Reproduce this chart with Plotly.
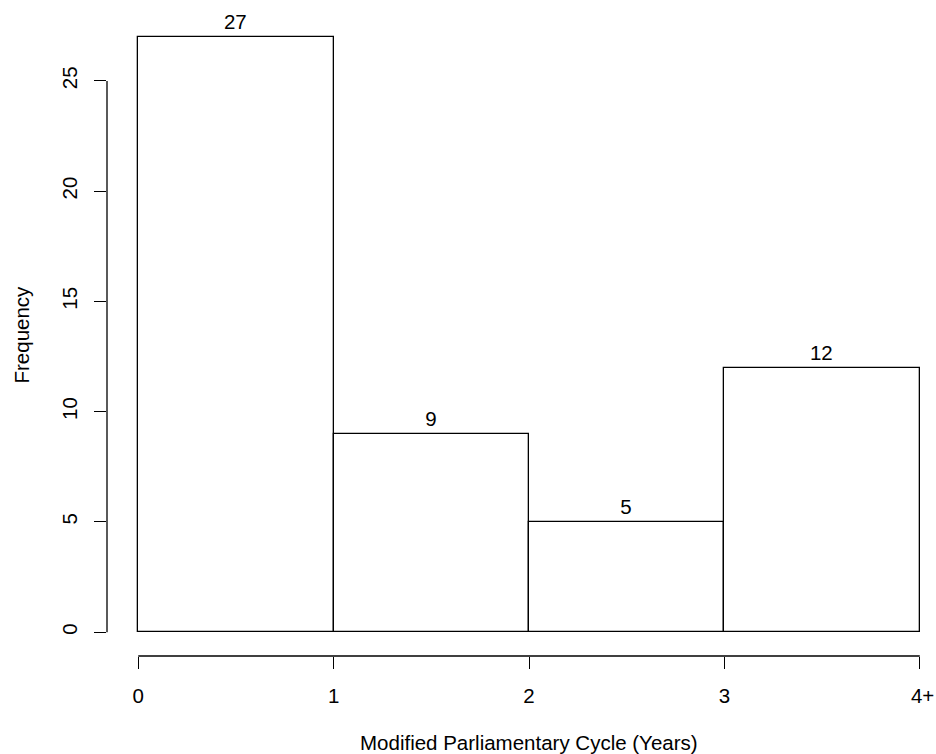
import plotly.graph_objects as go

# Data
bin_left = [0, 1, 2, 3]
bin_width = [1, 1, 1, 1]
counts = [27, 9, 5, 12]
x_tickvals = [0, 1, 2, 3, 4]
x_ticktext = ["0", "1", "2", "3", "\u20084+"]
y_tickvals = [0, 5, 10, 15, 20, 25]

FONT = "Liberation Sans, Arial, Helvetica, sans-serif"
FS = 20.5

centers = [l + w / 2 for l, w in zip(bin_left, bin_width)]

fig = go.Figure()
fig.add_trace(go.Bar(
    x=centers,
    y=counts,
    width=bin_width,
    marker=dict(color="white", line=dict(color="black", width=1.3)),
    text=[str(c) for c in counts],
    textposition="outside",
    textfont=dict(family=FONT, size=FS, color="black"),
    cliponaxis=False,
    hoverinfo="skip",
))

fig.update_layout(
    width=936,
    height=754,
    margin=dict(l=107, r=0, t=13, b=98, pad=0),
    paper_bgcolor="white",
    plot_bgcolor="white",
    showlegend=False,
    font=dict(family=FONT, size=FS, color="black"),
    bargap=0,
)

fig.update_xaxes(
    range=[-0.16, 4.083],
    tickvals=x_tickvals,
    ticktext=x_ticktext,
    ticks="outside",
    ticklen=12,
    tickwidth=1.3,
    tickcolor="black",
    showgrid=False,
    zeroline=False,
    showline=False,
    automargin=False,
    ticklabelstandoff=9,
    tickfont=dict(family=FONT, size=FS, color="black"),
)
fig.update_yaxes(
    range=[-1.08, 28.08],
    tickvals=y_tickvals,
    ticks="outside",
    ticklen=12,
    tickwidth=1.3,
    tickcolor="black",
    tickangle=-90,
    showgrid=False,
    zeroline=False,
    showline=False,
    automargin=False,
    ticklabelstandoff=9,
    tickfont=dict(family=FONT, size=FS, color="black"),
)

# axis lines spanning first to last tick (R style)
fig.add_shape(type="line", xref="x", yref="paper",
              x0=x_tickvals[0], x1=x_tickvals[-1], y0=0, y1=0,
              line=dict(color="black", width=1.3))
fig.add_shape(type="line", xref="paper", yref="y",
              x0=0, x1=0, y0=y_tickvals[0], y1=y_tickvals[-1],
              line=dict(color="black", width=1.3))

fig.add_annotation(text="Modified Parliamentary Cycle (Years)",
                   xref="x", yref="paper", x=2, y=0, yshift=-86,
                   xanchor="center", yanchor="middle", showarrow=False,
                   font=dict(family=FONT, size=FS, color="black"))
fig.add_annotation(text="Frequency",
                   xref="paper", yref="paper", x=0, y=0.5, xshift=-86,
                   xanchor="center", yanchor="middle", textangle=-90,
                   showarrow=False,
                   font=dict(family=FONT, size=FS, color="black"))

fig.write_html(
    "out.html",
    config={"displayModeBar": False},
    post_script="document.body.style.margin='0';document.body.style.overflow='hidden';",
)
